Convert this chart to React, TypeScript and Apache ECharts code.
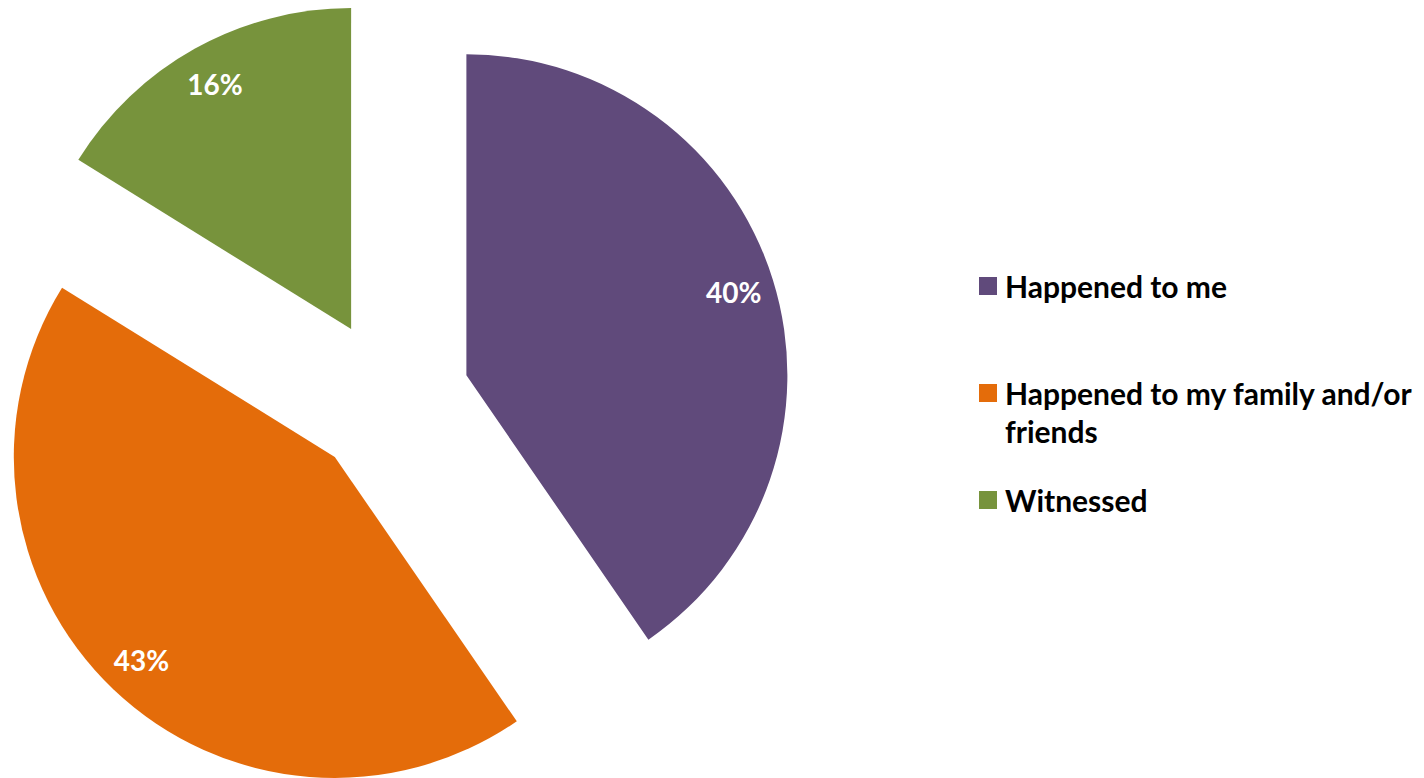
import React, { useEffect, useRef } from "react";
import * as echarts from "echarts";

const categories = ["Happened to me", "Happened to my family and/or friends", "Witnessed"];
const values = [40, 43, 16];
const colors = ["#604A7B", "#E46C0A", "#77933C"];

export default function App() {
  const ref = useRef<HTMLDivElement>(null);
  useEffect(() => {
    const chart = echarts.init(ref.current!, null, { renderer: "svg" });
    const font = "Lato, 'Open Sans', sans-serif";
    const pieData = categories.map((name, i) => ({
      name,
      value: values[i],
      selected: true,
      itemStyle: { color: colors[i] },
    }));
    const labelData = categories.map((name, i) => ({
      name: name + "__label",
      value: values[i],
      selected: true,
    }));
    chart.setOption({
      animation: false,
      backgroundColor: "#ffffff",
      legend: {
        orient: "vertical",
        left: 979,
        top: 267,
        padding: 0,
        itemGap: 31,
        itemWidth: 18,
        itemHeight: 18,
        icon: "rect",
        selectedMode: false,
        formatter: (n: string) =>
          n === categories[1] ? " \nHappened to my family and/or\nfriends" : n,
        textStyle: {
          fontFamily: font,
          fontWeight: "bold",
          fontSize: 30,
          lineHeight: 38,
          color: "#000000",
          padding: [0, 0, 0, 3],
        },
        data: categories,
      },
      series: [
        {
          type: "pie",
          center: [390, 399],
          radius: [0, 321],
          startAngle: 90,
          clockwise: true,
          selectedMode: "multiple",
          selectedOffset: 80,
          label: { show: false },
          labelLine: { show: false },
          emphasis: { disabled: true },
          select: { itemStyle: {} },
          data: pieData,
        },
        {
          type: "pie",
          center: [390, 399],
          radius: [233, 321],
          startAngle: 90,
          clockwise: true,
          silent: true,
          selectedMode: "multiple",
          selectedOffset: 80,
          itemStyle: { color: "rgba(0,0,0,0)" },
          select: { itemStyle: { color: "rgba(0,0,0,0)" } },
          emphasis: { disabled: true },
          labelLine: { show: false },
          label: {
            show: true,
            position: "inside",
            formatter: "{c}%",
            color: "#ffffff",
            fontFamily: font,
            fontWeight: "bold",
            fontSize: 28,
          },
          data: labelData,
        },
      ],
    });
    return () => chart.dispose();
  }, []);
  return (
    <div
      ref={ref}
      style={{ position: "fixed", left: 0, top: 0, width: 1424, height: 778 }}
    />
  );
}
